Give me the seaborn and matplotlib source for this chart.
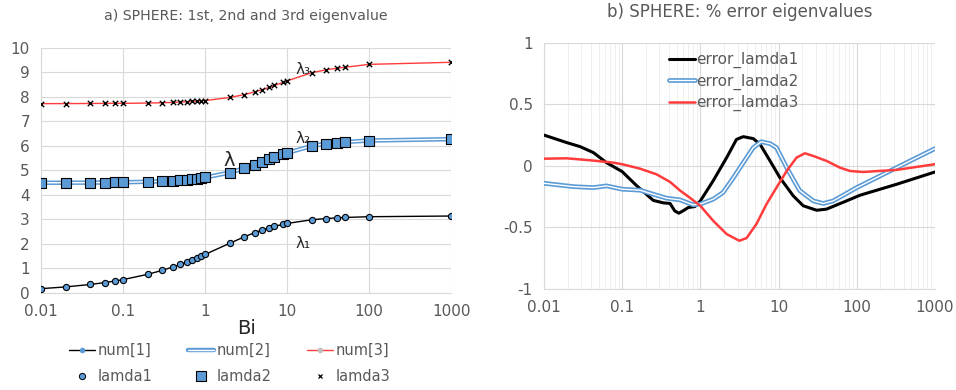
import numpy as np
import pandas as pd
import matplotlib
matplotlib.use("Agg")
import matplotlib.pyplot as plt
from matplotlib.ticker import FixedLocator, FuncFormatter, LogLocator
import seaborn as sns

# Biot numbers of the tabulated points
bi = [0.01, 0.02, 0.04, 0.06, 0.08, 0.1, 0.2, 0.3, 0.4, 0.5, 0.6, 0.7, 0.8, 0.9, 1,
      2, 3, 4, 5, 6, 7, 9, 10, 20, 30, 40, 50, 100, 1000]
lamda1 = [0.173, 0.2445, 0.345, 0.4217, 0.486, 0.5423, 0.7593, 0.9208, 1.0528, 1.1656,
          1.2644, 1.3525, 1.432, 1.5044, 1.5708, 2.0288, 2.2889, 2.4556, 2.5704, 2.6537,
          2.7165, 2.8044, 2.8363, 2.9857, 3.0372, 3.0632, 3.0788, 3.1102, 3.1385]
lamda2 = [4.4956, 4.4979, 4.5023, 4.5068, 4.5113, 4.5157, 4.5379, 4.5601, 4.5822, 4.6042,
          4.6261, 4.6479, 4.6696, 4.6911, 4.7124, 4.9132, 5.087, 5.2329, 5.354, 5.4544,
          5.5378, 5.6669, 5.7172, 6.0, 6.09, 6.14, 6.16, 6.22, 6.277]
lamda3 = [7.7266, 7.7289, 7.7335, 7.7381, 7.7427, 7.7382, 7.7511, 7.7641, 7.777, 7.7899,
          7.8028, 7.8156, 7.8284, 7.8412, 7.854, 7.9787, 8.0962, 8.2045, 8.3029, 8.3914,
          8.4703, 8.6017, 8.6587, 8.99, 9.11, 9.17, 9.21, 9.3308, 9.415]

# % error curves
bi_e1 = [0.01, 0.0195, 0.029, 0.043, 0.063, 0.1, 0.153, 0.25, 0.336, 0.41, 0.47, 0.53, 0.6,
         0.7, 0.85, 1.0, 1.46, 2.17, 2.9, 3.54, 4.75, 5.8, 7.8, 10.4, 15.4, 20.7, 30.7, 41,
         74, 110, 323, 1000]
err1 = [0.251, 0.19, 0.157, 0.108, 0.027, -0.046, -0.16, -0.28, -0.30, -0.305, -0.365, -0.384,
        -0.365, -0.338, -0.33, -0.284, -0.12, 0.068, 0.216, 0.238, 0.222, 0.176, 0.04, -0.095,
        -0.243, -0.324, -0.36, -0.351, -0.284, -0.238, -0.149, -0.049]
bi_e2 = [0.01, 0.0237, 0.043, 0.063, 0.1, 0.169, 0.25, 0.37, 0.55, 0.81, 1.0, 1.46, 1.95,
         2.65, 3.54, 4.75, 6.0, 7.8, 9.4, 12.7, 18.6, 27.8, 37.4, 50, 100, 323, 1000]
err2 = [-0.141, -0.168, -0.176, -0.162, -0.189, -0.197, -0.23, -0.262, -0.276, -0.316, -0.31,
        -0.27, -0.216, -0.095, 0.027, 0.149, 0.197, 0.181, 0.149, -0.014, -0.2, -0.284, -0.305,
        -0.284, -0.176, -0.014, 0.141]
bi_e3 = [0.01, 0.0195, 0.039, 0.077, 0.1, 0.169, 0.275, 0.41, 0.55, 0.73, 1.0, 1.46, 2.17,
         3.15, 3.9, 5.2, 7.0, 9.4, 12.7, 17.0, 21.7, 27.8, 41, 61, 82, 121, 323, 1000]
err3 = [0.059, 0.062, 0.046, 0.027, 0.014, -0.022, -0.068, -0.13, -0.2, -0.257, -0.324, -0.446,
        -0.554, -0.608, -0.586, -0.473, -0.311, -0.176, -0.041, 0.068, 0.103, 0.081, 0.041,
        -0.014, -0.041, -0.049, -0.032, 0.014]

xticks = [0.01, 0.1, 1, 10, 100, 1000]

sns.set_style("white")
plt.rcParams['font.family'] = ['DejaVu Sans']

grey_txt = "#595959"
blue = "#5B9BD5"

df = pd.DataFrame({"Bi": bi, "lamda1": lamda1, "lamda2": lamda2, "lamda3": lamda3})

fig = plt.figure(figsize=(9.56, 3.9), dpi=100)
ax1 = fig.add_axes([0.043, 0.249, 0.429, 0.628])
ax2 = fig.add_axes([0.569, 0.259, 0.409, 0.631])

# ---- panel a
sns.lineplot(data=df, x="Bi", y="lamda1", ax=ax1, color="black", lw=1.0, zorder=2)
sns.lineplot(data=df, x="Bi", y="lamda2", ax=ax1, color=blue, lw=3.2, zorder=2)
sns.lineplot(data=df, x="Bi", y="lamda2", ax=ax1, color="white", lw=1.0, zorder=2)
sns.lineplot(data=df, x="Bi", y="lamda3", ax=ax1, color="#FF3B3B", lw=1.0, zorder=2)
sns.scatterplot(data=df, x="Bi", y="lamda1", ax=ax1, marker="o", s=20, color=blue,
                edgecolor="black", linewidth=0.8, zorder=3)
sns.scatterplot(data=df, x="Bi", y="lamda2", ax=ax1, marker="s", s=45, color=blue,
                edgecolor="black", linewidth=0.8, zorder=3)
sns.scatterplot(data=df, x="Bi", y="lamda3", ax=ax1, marker="x", s=15, color="black",
                linewidth=1.0, zorder=3)

ax1.set_xscale("log")
ax1.set_xlim(0.01, 1000)
ax1.set_ylim(0, 10)
ax1.set_yticks(range(0, 11))
ax1.xaxis.set_major_locator(FixedLocator(xticks))
ax1.xaxis.set_minor_locator(FixedLocator([]))
ax1.xaxis.set_major_formatter(FuncFormatter(lambda v, p: "{:g}".format(v)))
ax1.grid(True, color="#d9d9d9", lw=0.8)
ax1.set_axisbelow(True)
ax1.set_xlabel("Bi", fontsize=14, labelpad=0)
ax1.set_ylabel("")
ax1.set_title("a) SPHERE: 1st, 2nd and 3rd eigenvalue", fontsize=10.2, color=grey_txt, pad=20)
ax1.text(1.65, 5.2, "λ", fontsize=14)
ax1.text(12.5, 8.95, "λ₃", fontsize=11)
ax1.text(12.5, 6.1, "λ₂", fontsize=11)
ax1.text(12.5, 1.85, "λ₁", fontsize=11)

h_num1 = plt.Line2D([], [], color="black", lw=1.0, marker="o", ms=3, mfc=blue, mec=blue)
h_num2 = (plt.Line2D([], [], color=blue, lw=3.2), plt.Line2D([], [], color="white", lw=1.0))
h_num3 = plt.Line2D([], [], color="#FF3B3B", lw=1.0, marker="o", ms=3, mfc="#bfbfbf", mec="#bfbfbf")
h_l1 = plt.Line2D([], [], ls="", marker="o", ms=4.5, mfc=blue, mec="black", mew=0.7)
h_l2 = plt.Line2D([], [], ls="", marker="s", ms=7, mfc=blue, mec="black", mew=0.8)
h_l3 = plt.Line2D([], [], ls="", marker="x", ms=3.5, color="black", mew=0.9)
ax1.legend([h_num1, h_l1, h_num2, h_l2, h_num3, h_l3],
           ["num[1]", "lamda1", "num[2]", "lamda2", "num[3]", "lamda3"],
           ncol=3, loc="upper center", bbox_to_anchor=(0.46, -0.15), frameon=False,
           fontsize=10.5, labelcolor=grey_txt, handlelength=1.75, handletextpad=0.2,
           columnspacing=2.45, labelspacing=0.8)

# ---- panel b
dfe1 = pd.DataFrame({"Bi": bi_e1, "err": err1})
dfe2 = pd.DataFrame({"Bi": bi_e2, "err": err2})
dfe3 = pd.DataFrame({"Bi": bi_e3, "err": err3})
sns.lineplot(data=dfe1, x="Bi", y="err", ax=ax2, color="black", lw=2.2, zorder=3)
sns.lineplot(data=dfe2, x="Bi", y="err", ax=ax2, color=blue, lw=3.4, zorder=3)
sns.lineplot(data=dfe2, x="Bi", y="err", ax=ax2, color="white", lw=1.0, zorder=3)
sns.lineplot(data=dfe3, x="Bi", y="err", ax=ax2, color="#FF3B3B", lw=1.8, zorder=3)

ax2.set_xscale("log")
ax2.set_xlim(0.01, 1000)
ax2.set_ylim(-1, 1)
ax2.set_yticks([-1, -0.5, 0, 0.5, 1])
ax2.yaxis.set_major_formatter(FuncFormatter(lambda v, p: "{:g}".format(v)))
ax2.xaxis.set_major_locator(FixedLocator(xticks))
ax2.xaxis.set_minor_locator(LogLocator(base=10, subs=np.arange(2, 10)))
ax2.xaxis.set_major_formatter(FuncFormatter(lambda v, p: "{:g}".format(v)))
ax2.grid(True, which="major", color="#d9d9d9", lw=0.8)
ax2.grid(True, which="minor", axis="x", color="#ececec", lw=0.6)
ax2.set_axisbelow(True)
ax2.set_xlabel("")
ax2.set_ylabel("")
ax2.set_title("b) SPHERE: % error eigenvalues", fontsize=12, color=grey_txt, pad=19)
h_e2 = (plt.Line2D([], [], color=blue, lw=3.4), plt.Line2D([], [], color="white", lw=1.0))
ax2.legend([plt.Line2D([], [], color="black", lw=2.2), h_e2,
            plt.Line2D([], [], color="#FF3B3B", lw=1.8)],
           ["error_lamda1", "error_lamda2", "error_lamda3"],
           loc="upper center", bbox_to_anchor=(0.485, 1.0), frameon=False, fontsize=11,
           labelcolor=grey_txt, handlelength=1.7, handletextpad=0.05, labelspacing=0.35,
           borderaxespad=0.2)

for ax in (ax1, ax2):
    ax.tick_params(length=0, labelsize=11, labelcolor=grey_txt, pad=8)
    for side in ("top", "right"):
        ax.spines[side].set_visible(False)
    for side in ("left", "bottom"):
        ax.spines[side].set_color("#d9d9d9")
        ax.spines[side].set_linewidth(0.8)

fig.savefig("out.png", dpi=100)
